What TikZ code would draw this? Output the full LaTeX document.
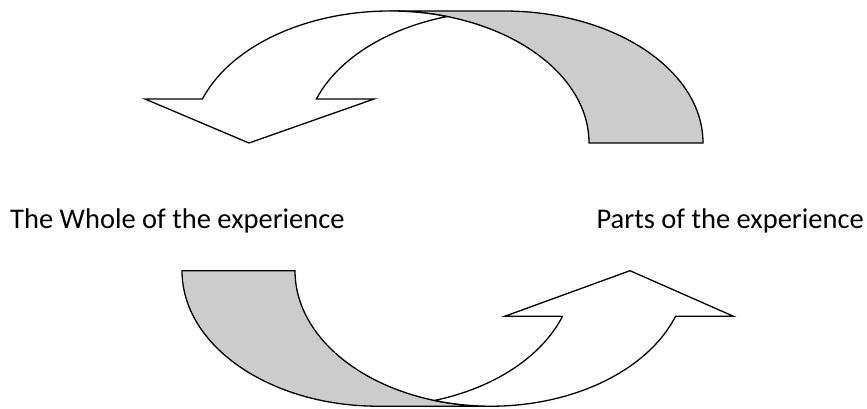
\documentclass[tikz,border=0pt]{standalone}
\usepackage{fontspec}
\setmainfont{Carlito}

\tikzset{
    band/.style={draw, line width=1.3pt, fill=white},
    backband/.style={band, fill=gray!40},
    label/.style={inner sep=0pt, font=\fontsize{28.5}{34}\selectfont}
}

\begin{document}
\begin{tikzpicture}[x=1pt,y=1pt]

\useasboundingbox (0,0) rectangle (867,408);

    % upper arrow
    \def \cx{390}
    \def \cy{265}
    \def \w{114}
    \def \a{199}
    \def \b{132}
    \draw[backband] (\cx,\cy+\b) arc[start angle=90, end angle=0, x radius=\a, y radius=\b]
        -- ++(\w,0) arc[start angle=0, end angle=90, x radius=\a, y radius=\b] -- cycle;
    \draw[band] ({\cx+\a*cos(160.53)},309) -- (145,309) -- (249,\cy) -- (374,309)
        -- ({\cx+\w+\a*cos(160.53)},309)
        arc[start angle=160.53, end angle=106.64, x radius=\a, y radius=\b]
        arc[start angle=73.36, end angle=160.53, x radius=\a, y radius=\b] -- cycle;

    % lower arrow
    \def \cx{378}
    \def \cy{137.3}
    \def \w{113}
    \def \a{196}
    \def \b{135.5}
    \draw[backband] (\cx-\a,\cy) arc[start angle=180, end angle=270, x radius=\a, y radius=\b]
        -- ++(\w,0) arc[start angle=270, end angle=180, x radius=\a, y radius=\b] -- cycle;
    \draw[band] ({\cx+\a*cos(19.67)},91.7) -- (504.7,91.7) -- (630,\cy) -- (733.5,91.7)
        -- ({\cx+\w+\a*cos(19.67)},91.7)
        arc[start angle=-19.67, end angle=-106.76, x radius=\a, y radius=\b]
        arc[start angle=-73.24, end angle=-19.67, x radius=\a, y radius=\b] -- cycle;

    \node[label, anchor=base west] (whole) at (10,180) {The Whole of the experience};
    \node[label, anchor=base east] (parts) at (864,180) {Parts of the experience};

\end{tikzpicture}
\end{document}
